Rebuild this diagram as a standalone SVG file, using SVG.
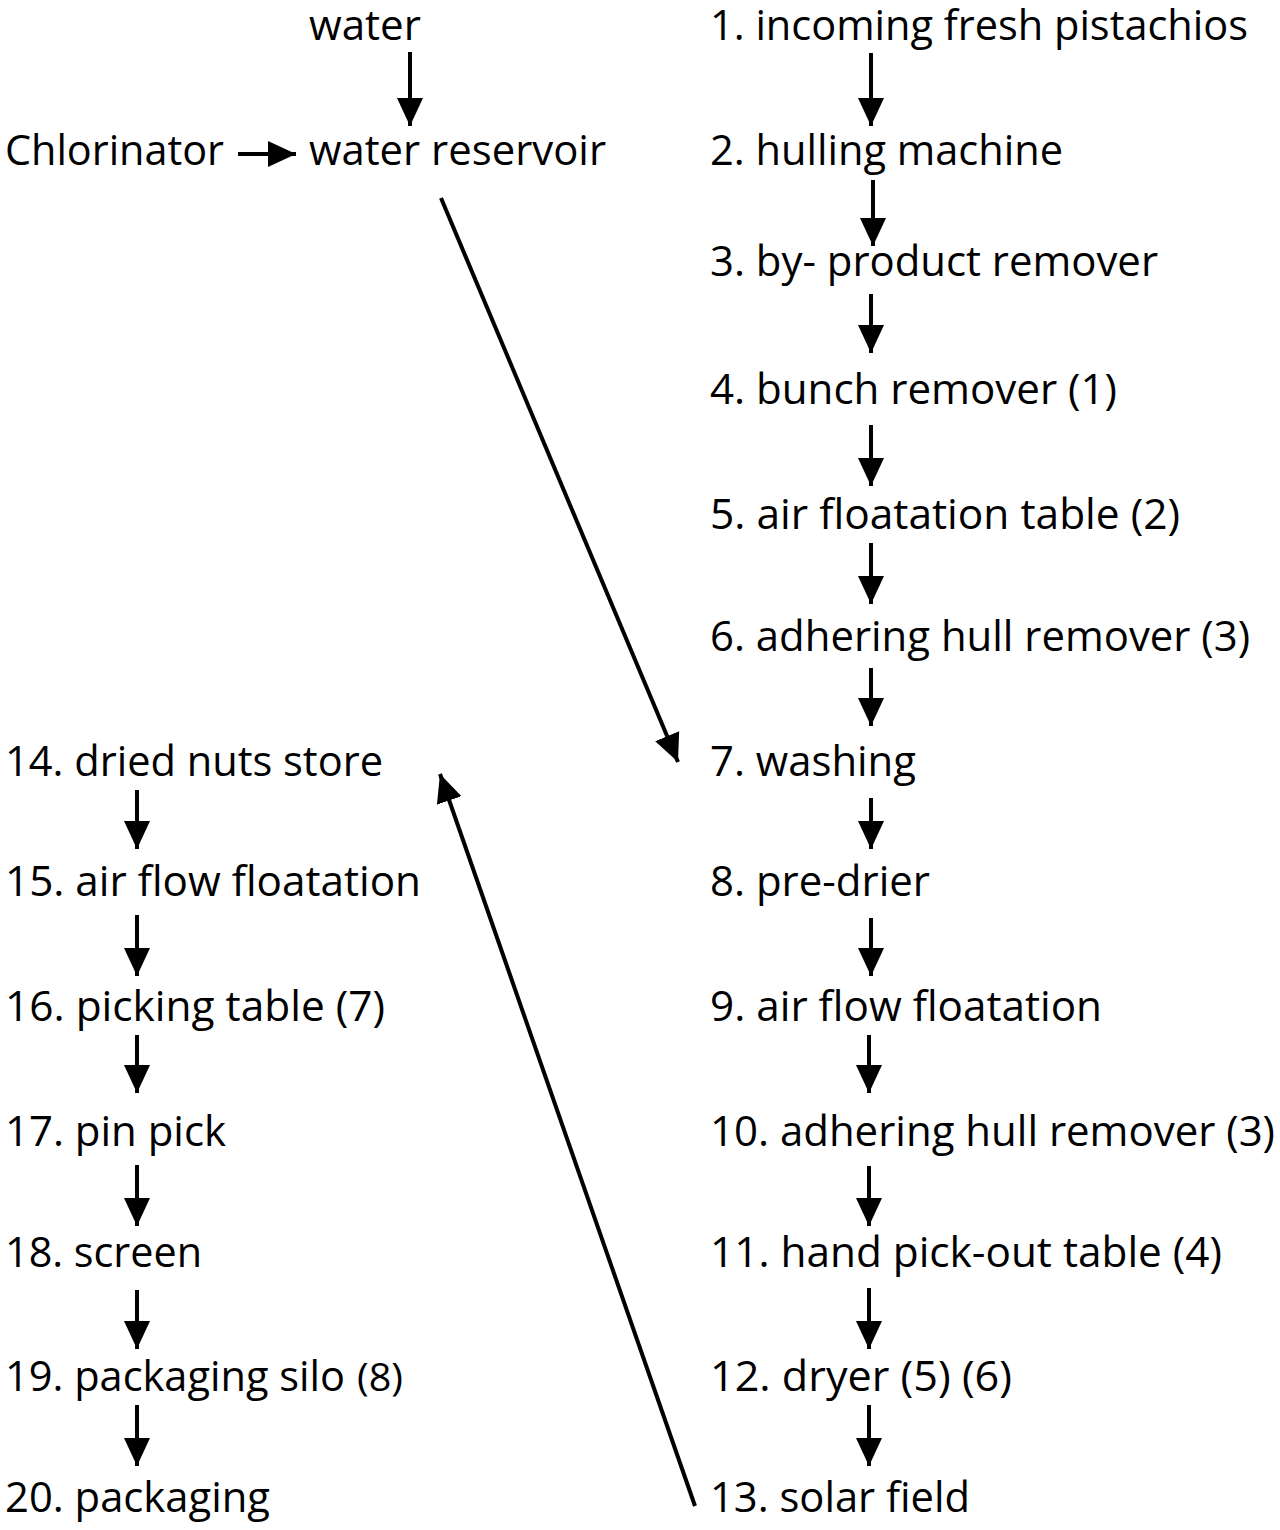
<svg xmlns="http://www.w3.org/2000/svg" width="1280" height="1530" viewBox="0 0 1280 1530">
<style>
text{font-family:"Open Sans","Liberation Sans",sans-serif;font-size:42px;fill:#000}
.c line{stroke:#000;stroke-width:4;marker-end:url(#ah)}
</style>
<defs>
<marker id="ah" markerUnits="userSpaceOnUse" markerWidth="30" markerHeight="28" viewBox="0 0 30 28" refX="28" refY="14" orient="auto">
<path d="M0,1 L28,14 L0,27 Z" fill="#000"/>
</marker>
</defs>
<rect width="1280" height="1530" fill="#fff"/>
<g id="n-water"><text x="309" y="40" textLength="112" lengthAdjust="spacingAndGlyphs">water</text></g>
<g id="n-chlorinator"><text x="5" y="165" textLength="219" lengthAdjust="spacingAndGlyphs">Chlorinator</text></g>
<g id="n-reservoir"><text x="309" y="165" textLength="297" lengthAdjust="spacingAndGlyphs">water reservoir</text></g>
<g id="n1"><text x="710" y="40" textLength="538" lengthAdjust="spacingAndGlyphs">1. incoming fresh pistachios</text></g>
<g id="n2"><text x="710" y="165" textLength="353" lengthAdjust="spacingAndGlyphs">2. hulling machine</text></g>
<g id="n3"><text x="710" y="276" textLength="448" lengthAdjust="spacingAndGlyphs">3. by- product remover</text></g>
<g id="n4"><text x="710" y="404" textLength="407" lengthAdjust="spacingAndGlyphs">4. bunch remover (1)</text></g>
<g id="n5"><text x="710" y="529" textLength="470" lengthAdjust="spacingAndGlyphs">5. air floatation table (2)</text></g>
<g id="n6"><text x="710" y="651" textLength="540" lengthAdjust="spacingAndGlyphs">6. adhering hull remover (3)</text></g>
<g id="n7"><text x="710" y="776" textLength="206" lengthAdjust="spacingAndGlyphs">7. washing</text></g>
<g id="n8"><text x="710" y="896" textLength="220" lengthAdjust="spacingAndGlyphs">8. pre-drier</text></g>
<g id="n9"><text x="710" y="1021" textLength="392" lengthAdjust="spacingAndGlyphs">9. air flow floatation</text></g>
<g id="n10"><text x="710" y="1146" textLength="565" lengthAdjust="spacingAndGlyphs">10. adhering hull remover (3)</text></g>
<g id="n11"><text x="710" y="1267" textLength="512" lengthAdjust="spacingAndGlyphs">11. hand pick-out table (4)</text></g>
<g id="n12"><text x="710" y="1391" textLength="302" lengthAdjust="spacingAndGlyphs">12. dryer (5) (6)</text></g>
<g id="n13"><text x="710" y="1512" textLength="260" lengthAdjust="spacingAndGlyphs">13. solar field</text></g>
<g id="n14"><text x="5" y="776" textLength="378" lengthAdjust="spacingAndGlyphs">14. dried nuts store</text></g>
<g id="n15"><text x="5" y="896" textLength="416" lengthAdjust="spacingAndGlyphs">15. air flow floatation</text></g>
<g id="n16"><text x="5" y="1021" textLength="380" lengthAdjust="spacingAndGlyphs">16. picking table (7)</text></g>
<g id="n17"><text x="5" y="1146" textLength="221" lengthAdjust="spacingAndGlyphs">17. pin pick</text></g>
<g id="n18"><text x="5" y="1267" textLength="197" lengthAdjust="spacingAndGlyphs">18. screen</text></g>
<g id="n19"><text x="5" y="1391"><tspan textLength="340" lengthAdjust="spacingAndGlyphs">19. packaging silo</tspan><tspan x="357" font-size="38" textLength="46" lengthAdjust="spacingAndGlyphs">(8)</tspan></text></g>
<g id="n20"><text x="5" y="1512" textLength="265" lengthAdjust="spacingAndGlyphs">20. packaging</text></g>
<g class="c" id="connectors">
<line x1="410" y1="52" x2="410" y2="126"/>
<line x1="238" y1="154" x2="296" y2="154"/>
<line x1="441" y1="198" x2="678" y2="762"/>
<line x1="695" y1="1506" x2="440" y2="774"/>
<line x1="871" y1="53" x2="871" y2="126"/>
<line x1="873" y1="180" x2="873" y2="246"/>
<line x1="871" y1="294" x2="871" y2="353"/>
<line x1="871" y1="425" x2="871" y2="486"/>
<line x1="871" y1="543" x2="871" y2="604"/>
<line x1="871" y1="668" x2="871" y2="726"/>
<line x1="871" y1="798" x2="871" y2="849"/>
<line x1="871" y1="918" x2="871" y2="976"/>
<line x1="869" y1="1035" x2="869" y2="1093"/>
<line x1="869" y1="1166" x2="869" y2="1226"/>
<line x1="869" y1="1288" x2="869" y2="1349"/>
<line x1="869" y1="1405" x2="869" y2="1466"/>
<line x1="137" y1="790" x2="137" y2="849"/>
<line x1="137" y1="915" x2="137" y2="976"/>
<line x1="137" y1="1035" x2="137" y2="1093"/>
<line x1="137" y1="1165" x2="137" y2="1226"/>
<line x1="137" y1="1290" x2="137" y2="1349"/>
<line x1="137" y1="1405" x2="137" y2="1466"/>
</g>
</svg>
